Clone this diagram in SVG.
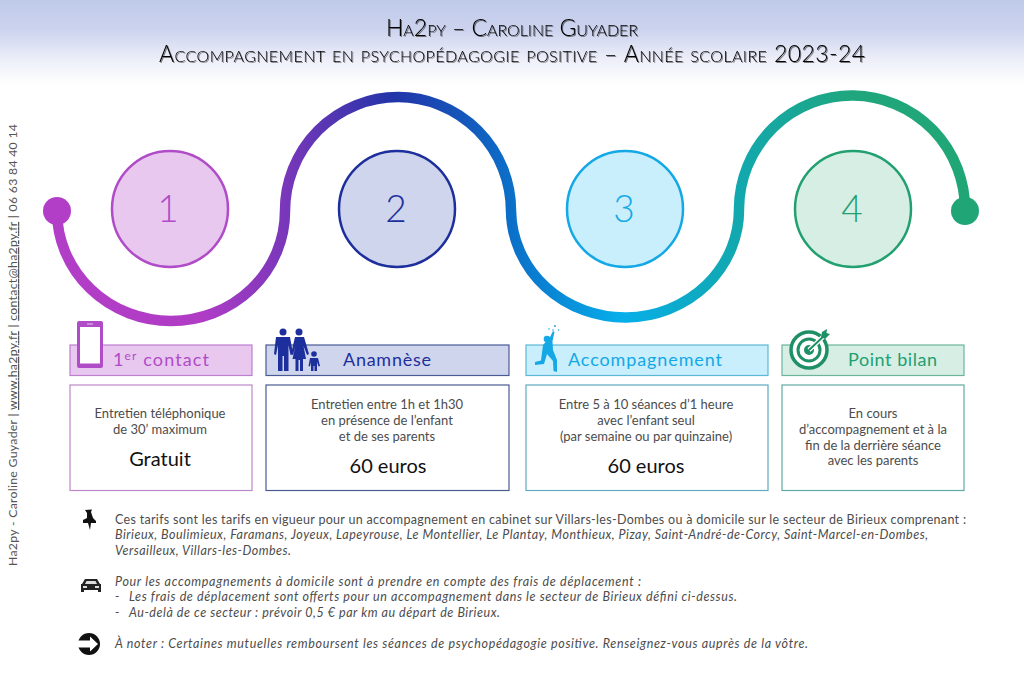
<svg xmlns="http://www.w3.org/2000/svg" width="1024" height="695" viewBox="0 0 1024 695">
<defs>
<linearGradient id="bg" x1="0" y1="0" x2="0" y2="1"><stop offset="0" stop-color="#bfcaea"/><stop offset="0.35" stop-color="#ccd3ee"/><stop offset="0.72" stop-color="#eef0f9"/><stop offset="1" stop-color="#ffffff"/></linearGradient>
<linearGradient id="curve" gradientUnits="userSpaceOnUse" x1="57" y1="0" x2="965" y2="0">
<stop offset="0" stop-color="#b23ec8"/><stop offset="0.16" stop-color="#b03cc6"/><stop offset="0.25" stop-color="#7a37ba"/><stop offset="0.37" stop-color="#2234a8"/><stop offset="0.5" stop-color="#0b6fc8"/><stop offset="0.62" stop-color="#07aeea"/><stop offset="0.75" stop-color="#12a8ae"/><stop offset="0.88" stop-color="#20a67c"/><stop offset="1" stop-color="#20a676"/>
</linearGradient>
<filter id="sh" x="-5%" y="-20%" width="110%" height="150%"><feDropShadow dx="1" dy="1" stdDeviation="0.7" flood-color="#000" flood-opacity="0.5"/></filter>
</defs>
<style>
text{font-family:"Lato","Liberation Sans",sans-serif;font-weight:300}
.title{font-size:23px;fill:#000;font-variant:small-caps;filter:url(#sh);font-weight:300}
.num{font-size:37px;text-anchor:middle}
.head{font-size:18px;font-weight:400}
.body{font-size:13px;fill:#4c4c4c;text-anchor:middle;font-weight:400}
.price{font-size:20px;fill:#111;text-anchor:middle;font-weight:400}
.note{font-size:12.5px;fill:#4c4c4c;font-weight:400}
.it{font-style:italic}
.side{font-size:12.3px;fill:#555;font-weight:400}
.bx{fill:#fff;stroke-width:1.2}
</style>
<rect width="1024" height="85" fill="url(#bg)"/>
<g id="title">
<text class="title" x="386" y="36" textLength="252">Ha2py – Caroline Guyader</text>
<text class="title" x="159" y="62" textLength="706">Accompagnement en psychopédagogie positive – Année scolaire 2023-24</text>
</g>
<text class="side" transform="translate(17,566) rotate(-90)" textLength="442">Ha2py - Caroline Guyader | <tspan text-decoration="underline">www.ha2py.fr</tspan> | <tspan text-decoration="underline">contact@ha2py.fr</tspan> | 06 63 84 40 14</text>
<g id="connectors">
<path d="M57 211A114 110 0 0 0 285 211A113 114 0 0 1 511 211A114 108 0 0 0 739 208A113 114 0 0 1 965 211" fill="none" stroke="url(#curve)" stroke-width="10.5"/>
<circle cx="57" cy="211" r="14" fill="#b23ec8"/>
<circle cx="965" cy="211" r="14" fill="#20a676"/>
</g>
<g id="step1">
<circle cx="170" cy="209" r="58" fill="#e8c8ef" stroke="#b04cc8" stroke-width="2.500"/>
<text class="num" x="168" y="222" fill="#b04cc8">1</text>
<rect x="70" y="345" width="182" height="30.500" fill="#e8c8ef" stroke="#bd7fd0" stroke-width="1.200"/>
<text class="head" x="113" y="366" fill="#b04cc8" textLength="96">1<tspan font-size="12" dy="-6">er</tspan><tspan dy="6"> contact</tspan></text>
<rect class="bx" x="70" y="385" width="182" height="105.500" stroke="#bd88c8"/>
<text class="body" x="160" y="418">Entretien téléphonique</text>
<text class="body" x="160" y="434">de 30’ maximum</text>
<text class="price" x="160" y="466">Gratuit</text>
<g id="icon1"><rect x="77" y="321" width="26" height="47" rx="2" fill="#b04cc8"/><rect x="80" y="327" width="20" height="36.500" fill="#fff"/><path d="M87 324H93" stroke="#e8c8ef" stroke-width="1"/></g>
</g>
<g id="step2">
<circle cx="397" cy="209" r="58" fill="#cfd5ec" stroke="#1d2f9c" stroke-width="2.500"/>
<text class="num" x="396" y="222" fill="#1d2f9c">2</text>
<rect x="266" y="345" width="243" height="30.500" fill="#cfd5ec" stroke="#4a5a94" stroke-width="1.200"/>
<text class="head" x="343" y="366" fill="#1d2f9c" textLength="88">Anamnèse</text>
<rect class="bx" x="266" y="385" width="243" height="105.500" stroke="#4a5a94"/>
<text class="body" x="387" y="409">Entretien entre 1h et 1h30</text>
<text class="body" x="387" y="425">en présence de l’enfant</text>
<text class="body" x="387" y="441">et de ses parents</text>
<text class="price" x="388" y="473">60 euros</text>
<g id="icon2" fill="#1d2f9c">
<circle cx="283" cy="332" r="3.500"/><circle cx="299" cy="332" r="3.500"/><circle cx="314" cy="354" r="2.800"/>
<path d="M276 337H290L293 354L290.500 355L288.500 345V371H284V356H282.500V371H278V345L276 355L274 354Z"/>
<path d="M295 337H304L309 354L307 355L303.500 346L306 359H303V371H300V360H298.500V371H295.500V359H292.500L295.500 345L293 355L291 354Z"/>
<path d="M310 358H318L320 366L318.500 366.500L317 362V371H314.500V366H313.500V371H311V362L310 366.500L308.500 366Z"/>
</g>
</g>
<g id="step3">
<circle cx="625" cy="209" r="58" fill="#c9eefc" stroke="#14a8e6" stroke-width="2.500"/>
<text class="num" x="624" y="222" fill="#14a8e6">3</text>
<rect x="526" y="345" width="242" height="30.500" fill="#c9eefc" stroke="#5cb8d4" stroke-width="1.200"/>
<text class="head" x="568" y="366" fill="#14a8e6" textLength="154">Accompagnement</text>
<rect class="bx" x="526" y="385" width="242" height="105.500" stroke="#5faabf"/>
<text class="body" x="646" y="409">Entre 5 à 10 séances d’1 heure</text>
<text class="body" x="646" y="425">avec l’enfant seul</text>
<text class="body" x="646" y="441">(par semaine ou par quinzaine)</text>
<text class="price" x="646" y="473">60 euros</text>
<g id="icon3" fill="#14a8e6">
<circle cx="547" cy="339" r="3.300"/>
<path d="M550 337L553 331L554.500 332L552.500 341L553 350L557 360V372L553.500 371L553 361L547 354L544 364L535 365L535 362L541 360.500L543 345Z"/>
<circle cx="555" cy="326" r="1"/><circle cx="549" cy="329" r="0.800"/><circle cx="558.500" cy="330" r="0.800"/><circle cx="553" cy="330" r="0.800"/>
</g>
</g>
<g id="step4">
<circle cx="853" cy="209" r="58" fill="#d7eee5" stroke="#22a070" stroke-width="2.500"/>
<text class="num" x="852" y="222" fill="#22a070">4</text>
<rect x="782" y="345" width="182" height="30.500" fill="#d7eee5" stroke="#6cb49c" stroke-width="1.200"/>
<text class="head" x="848" y="366" fill="#22a070" textLength="89">Point bilan</text>
<rect class="bx" x="782" y="385" width="182" height="105.500" stroke="#5faaa0"/>
<text class="body" x="873" y="418">En cours</text>
<text class="body" x="873" y="434">d’accompagnement et à la</text>
<text class="body" x="873" y="450">fin de la derrière séance</text>
<text class="body" x="873" y="465">avec les parents</text>
<g id="icon4">
<circle cx="809" cy="350" r="18" fill="#fff" stroke="#1f8f65" stroke-width="3.500"/>
<circle cx="809" cy="350" r="11" fill="none" stroke="#1f8f65" stroke-width="3"/>
<circle cx="809" cy="350" r="5" fill="#1f8f65"/>
<path d="M809 350L825 335" stroke="#fff" stroke-width="4.500"/><path d="M809 350L825 335" stroke="#1f8f65" stroke-width="2"/>
<path d="M821 337L822 332L827 329L826.500 333L830 334L825 339Z" fill="#1f8f65"/>
</g>
</g>
<g id="notes">
<text class="note" x="115" y="524" textLength="851">Ces tarifs sont les tarifs en vigueur pour un accompagnement en cabinet sur Villars-les-Dombes ou à domicile sur le secteur de Birieux comprenant :</text>
<text class="note it" x="115" y="539" textLength="813">Birieux, Boulimieux, Faramans, Joyeux, Lapeyrouse, Le Montellier, Le Plantay, Monthieux, Pizay, Saint-André-de-Corcy, Saint-Marcel-en-Dombes,</text>
<text class="note it" x="115" y="555" textLength="176">Versailleux, Villars-les-Dombes.</text>
<text class="note it" x="115" y="586" textLength="526">Pour les accompagnements à domicile sont à prendre en compte des frais de déplacement :</text>
<text class="note it" x="115" y="601">-</text>
<text class="note it" x="129" y="601" textLength="608">Les frais de déplacement sont offerts pour un accompagnement dans le secteur de Birieux défini ci-dessus.</text>
<text class="note it" x="115" y="617">-</text>
<text class="note it" x="129" y="617" textLength="371">Au-delà de ce secteur : prévoir 0,5 € par km au départ de Birieux.</text>
<text class="note it" x="115" y="648" textLength="693">À noter : Certaines mutuelles remboursent les séances de psychopédagogie positive. Renseignez-vous auprès de la vôtre.</text>
<g id="pin" fill="#111"><path d="M85 510L92 509.500L91 512L93 518L96 521L96 523L91 523L90 530L88 523L83 523L83 520L87 518L87 513Z"/></g>
<g id="car"><path d="M85 579H97L100 584H101V592H98V590H84V592H81V584H82Z" fill="#222"/><path d="M86.500 581L85 584H97L95.500 581Z" fill="#ddd"/><path d="M83 586H87V588H83ZM95 586H99V588H95Z" fill="#ddd"/></g>
<g id="arrow"><circle cx="89" cy="644" r="11" fill="#111"/><path d="M78 640.500H90V636.500L98 644L90 651.500V647.500H78Z" fill="#fff"/></g>
</g>
</svg>
